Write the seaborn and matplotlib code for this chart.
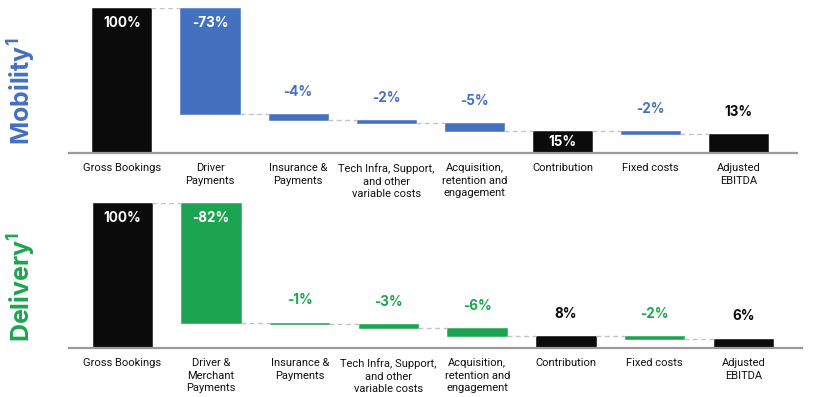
import numpy as np
import pandas as pd
import matplotlib
matplotlib.use("Agg")
import matplotlib.pyplot as plt
import seaborn as sns

# ---------------- data ----------------
mob_categories = ["Gross Bookings", "Driver\nPayments", "Insurance &\nPayments",
                  "Tech Infra, Support,\nand other\nvariable costs",
                  "Acquisition,\nretention and\nengagement", "Contribution",
                  "Fixed costs", "Adjusted\nEBITDA"]
del_categories = ["Gross Bookings", "Driver &\nMerchant\nPayments", "Insurance &\nPayments",
                  "Tech Infra, Support,\nand other\nvariable costs",
                  "Acquisition,\nretention and\nengagement", "Contribution",
                  "Fixed costs", "Adjusted\nEBITDA"]
step_kinds = ["total", "delta", "delta", "delta", "delta", "total", "delta", "total"]
mob_values = [100, -73.1, -4.1, -2.1, -5.4, 15.3, -2.2, 13.1]
mob_labels = ["100%", "-73%", "-4%", "-2%", "-5%", "15%", "-2%", "13%"]
del_values = [100, -82.5, -0.9, -3.0, -5.6, 8.1, -1.6, 6.5]
del_labels = ["100%", "-82%", "-1%", "-3%", "-6%", "8%", "-2%", "6%"]

BLACK = "#0b0b0b"
BLUE = "#4470c0"
GREEN = "#1ca550"

sns.set_theme(style="white")
plt.rcParams["font.family"] = ["Inter", "DejaVu Sans"]

fig = plt.figure(figsize=(8.13, 3.97), dpi=100)
W, H = 813, 397


def waterfall(ax, cats, values, labels, kinds, color):
    bottoms, heights, colors = [], [], []
    level = 0.0
    ends = []
    for v, k in zip(values, kinds):
        if k == "total":
            bottoms.append(0.0)
            heights.append(v)
            colors.append(BLACK)
            level = v
        else:
            new = level + v
            bottoms.append(min(level, new))
            heights.append(abs(v))
            colors.append(color)
            level = new
        ends.append(level)
    df = pd.DataFrame({"cat": cats, "h": heights})
    sns.barplot(data=df, x="cat", y="h", order=cats, bottom=bottoms, color=BLACK,
                width=0.67, errorbar=None, ax=ax, saturation=1, linewidth=0)
    for p, c in zip(ax.patches, colors):
        p.set_facecolor(c)
        p.set_edgecolor(c)
        p.set_linewidth(0.4)
    ax.set_ylim(0, 100)
    ax.set_xlim(-0.6, 7.66)
    # connectors
    for i in range(len(cats) - 1):
        ax.plot([i + 0.335, i + 1 - 0.335], [ends[i], ends[i]], ls=(0, (3.5, 2.5)),
                color="#c4c4c4", lw=1.0, zorder=1)
    # labels
    for i, (b, h, lab, k) in enumerate(zip(bottoms, heights, labels, kinds)):
        top = b + h
        if h >= 14:
            if h >= 40:
                ax.annotate(lab, (i, top), xytext=(0, -11), textcoords="offset points",
                            ha="center", va="center", color="white",
                            fontsize=9.7, fontweight="bold")
            else:
                ax.text(i, b + h / 2, lab, ha="center", va="center", color="white",
                        fontsize=9.7, fontweight="bold")
        else:
            ax.annotate(lab, (i, top), xytext=(0, 16), textcoords="offset points",
                        ha="center", va="center",
                        color=(BLACK if k == "total" else color),
                        fontsize=9.7, fontweight="bold")
    ax.set_xlabel("")
    ax.set_ylabel("")
    ax.set_yticks([])
    sns.despine(ax=ax, left=True)
    ax.spines["bottom"].set_color("#9a9a9a")
    ax.spines["bottom"].set_linewidth(1.6)
    ax.tick_params(axis="x", length=0, pad=7, colors="#111111")
    for t in ax.get_xticklabels():
        t.set_linespacing(1.36)
        t.set_va("top")
        t.set_fontfamily(["Roboto", "DejaVu Sans"])
        t.set_fontsize(8.0)
    ax.set_facecolor("white")


ax1 = fig.add_axes([69 / W, 1 - 153 / H, 728 / W, 145 / H])
waterfall(ax1, mob_categories, mob_values, mob_labels, step_kinds, BLUE)
ax2 = fig.add_axes([69 / W, 1 - 348 / H, 733 / W, 145 / H])
waterfall(ax2, del_categories, del_values, del_labels, step_kinds, GREEN)

fig.text(22 / W, 1 - 91 / H, r"Mobility$^{\mathregular{1}}$", rotation=90, ha="center",
         va="center", color=BLUE, fontsize=18, fontweight="bold")
fig.text(22 / W, 1 - 287 / H, r"Delivery$^{\mathregular{1}}$", rotation=90, ha="center",
         va="center", color=GREEN, fontsize=18, fontweight="bold")

fig.savefig("out.png", dpi=100, facecolor="white")
